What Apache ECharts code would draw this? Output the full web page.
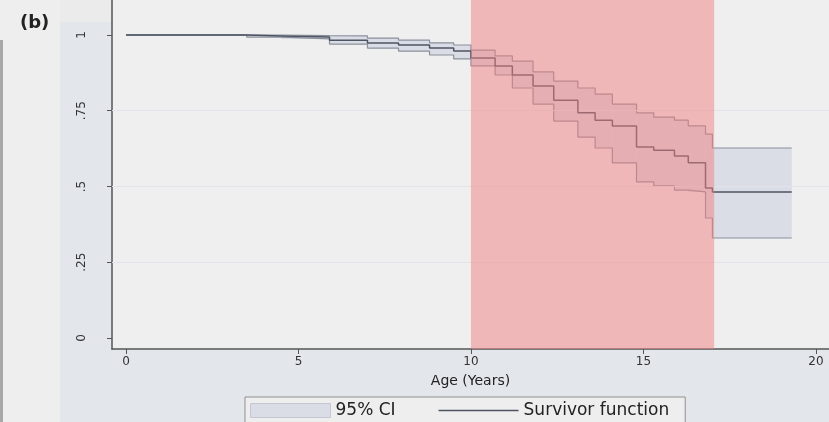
<!DOCTYPE html>
<html>
<head>
<meta charset="utf-8">
<script src="https://cdn.jsdelivr.net/npm/echarts@6/dist/echarts.min.js"></script>
<style>
  html, body { margin:0; padding:0; width:829px; height:422px; overflow:hidden; background:#e3e6ea; }
  #leftpane { position:absolute; left:0; top:0; width:60px; height:422px; background:#eeeeee; }
  #edge { position:absolute; left:0; top:40px; width:3px; height:382px; background:#a8a8a8; }
  #topstrip { position:absolute; left:0; top:0; width:829px; height:22px; background:#ebebeb; }
  #chart { position:absolute; left:0; top:0; width:829px; height:422px; }
</style>
</head>
<body>
<div id="topstrip"></div>
<div id="leftpane"></div>
<div id="edge"></div>
<div id="chart"></div>
<script>
// Kaplan-Meier estimate (step function) with 95% CI, ages in years
const ages     = [0, 3.5, 4.5, 5.9, 7.0, 7.9, 8.8, 9.5, 10.0, 10.7, 11.2, 11.8, 12.4, 13.1, 13.6, 14.1, 14.8, 15.3, 15.9, 16.3, 16.8, 17.0, 19.3];
const survival = [1, 0.997, 0.993, 0.983, 0.974, 0.967, 0.957, 0.947, 0.924, 0.898, 0.868, 0.832, 0.785, 0.743, 0.719, 0.700, 0.630, 0.620, 0.601, 0.578, 0.495, 0.482, 0.482];
const ciUpper  = [1, 1, 0.998, 0.997, 0.990, 0.983, 0.974, 0.967, 0.950, 0.931, 0.914, 0.878, 0.848, 0.825, 0.805, 0.772, 0.743, 0.729, 0.719, 0.700, 0.673, 0.627, 0.627];
const ciLower  = [1, 0.993, 0.987, 0.970, 0.957, 0.947, 0.934, 0.921, 0.898, 0.868, 0.825, 0.772, 0.716, 0.663, 0.627, 0.578, 0.515, 0.502, 0.488, 0.482, 0.396, 0.330, 0.330];
const highlightWindow = [10, 17.05];
const xTicks = [0, 5, 10, 15, 20];
const yTicks = [0, 0.25, 0.5, 0.75, 1];
const yTickLabels = ['0', '.25', '.5', '.75', '1'];
const titleText = '(b)';
const xAxisTitle = 'Age (Years)';

const pairs = (ys) => ages.map((a, i) => [a, ys[i]]);
// one band segment per step: [start age, end age, lower, upper]
const bandSegments = ages.slice(0, -1).map((a, i) => [a, ages[i + 1], ciLower[i], ciUpper[i]]);

const chart = echarts.init(document.getElementById('chart'), null, { renderer: 'canvas' });
const FONT = 'DejaVu Sans';
const BAND = '#dadce6';
chart.setOption({
  animation: false,
  backgroundColor: 'transparent',
  textStyle: { fontFamily: FONT },
  title: {
    text: titleText, left: 15, top: 9,
    textStyle: { fontSize: 18, fontWeight: 'bold', color: '#222', fontFamily: FONT }
  },
  grid: {
    left: 112, right: 0, top: 0, bottom: 73,
    show: true, backgroundColor: '#efefef', borderWidth: 0
  },
  legend: {
    left: 245, top: 397,
    padding: [5, 16, 5, 5],
    itemGap: 43, itemWidth: 80, itemHeight: 14,
    symbolKeepAspect: true,
    backgroundColor: '#eeeeee', borderColor: '#8f8f8f', borderWidth: 1, borderRadius: 0,
    textStyle: { fontSize: 17, color: '#222', fontFamily: FONT },
    data: [
      { name: '95% CI', icon: 'rect', itemStyle: { color: BAND, borderColor: '#c4c7d2', borderWidth: 1 } },
      { name: 'Survivor function', icon: 'path://M0,0H80V1.6H0Z', itemStyle: { color: '#4d5563', borderWidth: 0 } }
    ]
  },
  xAxis: {
    type: 'value', min: -0.406, max: 20.38,
    axisLine: { onZero: false, lineStyle: { color: '#555', width: 1.5 } },
    axisTick: { customValues: xTicks, length: 5, lineStyle: { color: '#555' } },
    axisLabel: { customValues: xTicks, color: '#333', fontSize: 12, margin: 7 },
    splitLine: { show: false },
    name: xAxisTitle, nameLocation: 'middle', nameGap: 25,
    nameTextStyle: { fontSize: 14, color: '#222', fontFamily: FONT }
  },
  yAxis: {
    type: 'value', min: -0.0363, max: 1.1155,
    axisLine: { show: true, onZero: false, lineStyle: { color: '#555', width: 1.5 } },
    axisTick: { show: true, customValues: yTicks, length: 5, lineStyle: { color: '#555' } },
    axisLabel: {
      customValues: yTicks, rotate: 90, color: '#333', fontSize: 12, margin: 24,
      formatter: (v) => { const i = yTicks.findIndex(t => Math.abs(t - v) < 1e-6); return i >= 0 ? yTickLabels[i] : ''; }
    },
    splitLine: { show: false }
  },
  series: [
    {
      name: '95% CI', type: 'custom', data: bandSegments, z: 2,
      itemStyle: { color: BAND },
      encode: { x: [0, 1], y: [2, 3] },
      renderItem: (params, api) => {
        const p0 = api.coord([api.value(0), api.value(3)]);
        const p1 = api.coord([api.value(1), api.value(2)]);
        return {
          type: 'rect',
          shape: { x: p0[0], y: p0[1], width: p1[0] - p0[0], height: p1[1] - p0[1] },
          style: { fill: BAND }
        };
      },
      markLine: {
        silent: true, symbol: 'none', label: { show: false },
        lineStyle: { color: '#e2e4e9', width: 1, type: 'solid' },
        data: yTicks.slice(1, 4).map(v => ({ yAxis: v }))
      }
    },
    {
      name: 'upperLine', type: 'line', step: 'end', data: pairs(ciUpper),
      symbol: 'none', lineStyle: { color: '#8a909c', width: 1.2 }, z: 4
    },
    {
      name: 'lowerLine', type: 'line', step: 'end', data: pairs(ciLower),
      symbol: 'none', lineStyle: { color: '#8a909c', width: 1.2 }, z: 4
    },
    {
      name: 'Survivor function', type: 'line', step: 'end', data: pairs(survival),
      symbol: 'none', itemStyle: { color: '#4d5563' }, lineStyle: { color: '#4d5563', width: 1.5 }, z: 5
    },
    {
      name: 'window', type: 'custom', data: [highlightWindow], z: 10, silent: true,
      encode: { x: [0, 1] },
      renderItem: (params, api) => {
        const cs = params.coordSys;
        const x0 = api.coord([api.value(0), 0])[0];
        const x1 = api.coord([api.value(1), 0])[0];
        return {
          type: 'rect',
          shape: { x: x0, y: cs.y, width: x1 - x0, height: cs.height },
          style: { fill: 'rgba(240,128,128,0.5)' }
        };
      }
    }
  ]
});
</script>
</body>
</html>
